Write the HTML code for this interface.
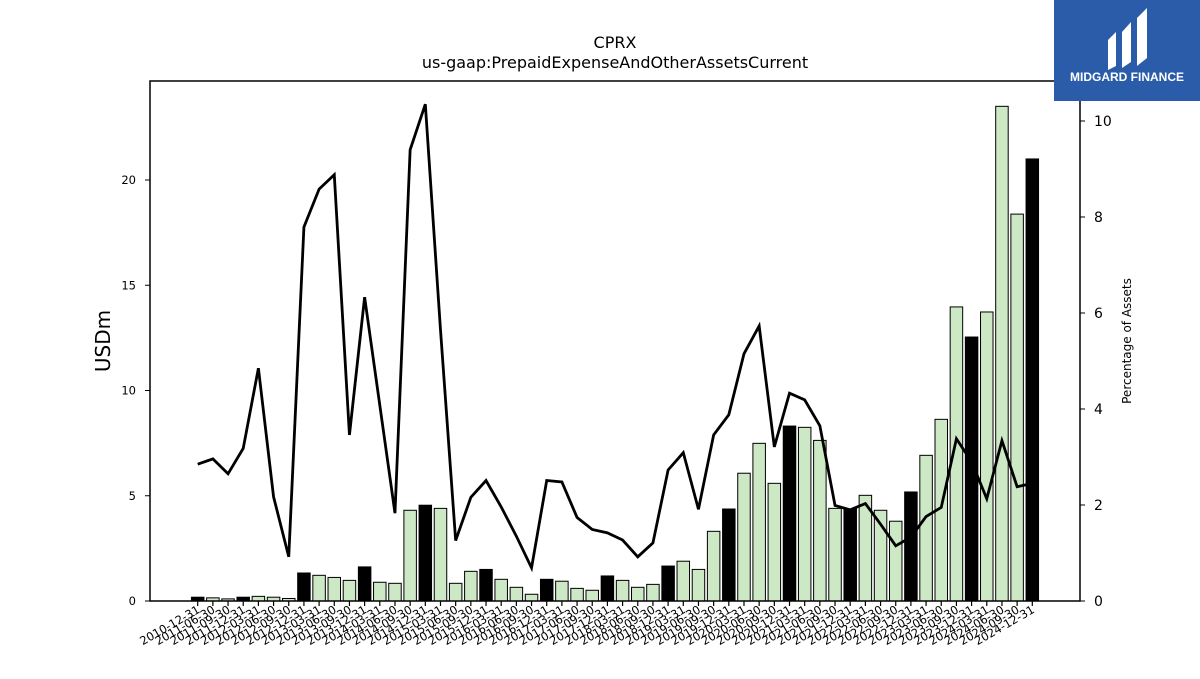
<!DOCTYPE html>
<html><head><meta charset="utf-8"><style>
body{margin:0;background:#fff;font-family:"DejaVu Sans","Liberation Sans",sans-serif}
</style></head><body>
<svg id="c" width="1200" height="675" xmlns="http://www.w3.org/2000/svg">
<rect width="1200" height="675" fill="#fff"/>
<text x="615" y="48" text-anchor="middle" font-size="16">CPRX</text>
<text x="615" y="68" text-anchor="middle" font-size="16">us-gaap:PrepaidExpenseAndOtherAssetsCurrent</text>
<g id="plot"></g>
<rect x="150" y="81" width="930" height="520" fill="none" stroke="#000" stroke-width="1.5"/>
<text transform="translate(110,341) rotate(-90)" text-anchor="middle" font-size="20">USDm</text>
<text transform="translate(1131,341) rotate(-90)" text-anchor="middle" font-size="12">Percentage of Assets</text>
<g>
<rect x="1054" y="0" width="146" height="101" fill="#2a5caa"/>
<path d="M1108 40 l8 -8 v34 l-8 4z M1122 32 l9 -10 v40 l-9 6z M1137 18 l10 -10 v50 l-10 8z" fill="#fff"/>
<text x="1127" y="81" text-anchor="middle" font-size="12" font-weight="bold" fill="#fff" font-family="Liberation Sans, sans-serif">MIDGARD FINANCE</text>
</g>
</svg>
<script>
const dates=["2010-12-31","2011-06-30","2011-09-30","2011-12-31","2012-03-31","2012-06-30","2012-09-30","2012-12-31","2013-03-31","2013-06-30","2013-09-30","2013-12-31","2014-03-31","2014-06-30","2014-09-30","2014-12-31","2015-03-31","2015-06-30","2015-09-30","2015-12-31","2016-03-31","2016-06-30","2016-09-30","2016-12-31","2017-03-31","2017-06-30","2017-09-30","2017-12-31","2018-03-31","2018-06-30","2018-09-30","2018-12-31","2019-03-31","2019-06-30","2019-09-30","2019-12-31","2020-03-31","2020-06-30","2020-09-30","2020-12-31","2021-03-31","2021-06-30","2021-09-30","2021-12-31","2022-03-31","2022-06-30","2022-09-30","2022-12-31","2023-03-31","2023-06-30","2023-09-30","2023-12-31","2024-03-31","2024-06-30","2024-09-30","2024-12-31"];
const usd=[0.18,0.15,0.1,0.18,0.22,0.18,0.12,1.33,1.22,1.12,0.98,1.62,0.89,0.84,4.31,4.55,4.4,0.84,1.41,1.5,1.03,0.65,0.32,1.03,0.94,0.6,0.51,1.19,0.98,0.65,0.79,1.66,1.89,1.5,3.31,4.37,6.07,7.49,5.59,8.31,8.25,7.63,4.4,4.37,5.02,4.31,3.79,5.18,6.92,8.63,13.97,12.54,13.73,23.5,18.38,21.0];
const pct=[2.85,2.96,2.65,3.18,4.85,2.17,0.92,7.79,8.58,8.88,3.46,6.33,4.08,1.83,9.4,10.35,5.65,1.26,2.16,2.51,1.96,1.35,0.69,2.51,2.48,1.74,1.49,1.42,1.27,0.92,1.21,2.73,3.09,1.91,3.46,3.88,5.15,5.73,3.21,4.33,4.19,3.65,1.99,1.9,2.03,1.6,1.15,1.33,1.76,1.95,3.38,2.9,2.13,3.34,2.38,2.45];
const yTicks=[0,5,10,15,20];
const y2Ticks=[0,2,4,6,8,10];
const NS="http://www.w3.org/2000/svg";
const g=document.getElementById('plot');
const x=i=>197.7+i*(834.6/(dates.length-1));
const y=v=>601-v*21.05;
const y2=v=>601-v*48;
function mk(t,a){const e=document.createElementNS(NS,t);for(const k in a)e.setAttribute(k,a[k]);g.appendChild(e);return e;}
const bw=12.5;
usd.forEach((v,i)=>{
 const black=dates[i].endsWith("12-31");
 const r=mk('rect',{x:x(i)-bw/2,y:y(v),width:bw,height:601-y(v),fill:black?'#000':'#cde8c5',stroke:'#000','stroke-width':1});
 
 
 const t=mk('line',{x1:x(i),x2:x(i),y1:601,y2:606,stroke:'#000','stroke-width':1.2});
 
 
 const l=mk('text',{transform:`translate(${x(i)+3},${612}) rotate(-30)`,'text-anchor':'end','font-size':11.5,fill:'#000'});
 l.textContent=dates[i];
 
 
});
const p=mk('polyline',{points:pct.map((v,i)=>x(i)+','+y2(v)).join(' '),fill:'none',stroke:'#000','stroke-width':2.8,'stroke-linejoin':'miter'});


yTicks.forEach(v=>{
 const t=mk('line',{x1:145,x2:150,y1:y(v),y2:y(v),stroke:'#000'});
 
 
 const l=mk('text',{x:136,y:y(v)+4,'text-anchor':'end','font-size':11.5});
 l.textContent=v;
 
 
});
y2Ticks.forEach(v=>{
 const t=mk('line',{x1:1080,x2:1085,y1:y2(v),y2:y2(v),stroke:'#000'});
 
 
 const l=mk('text',{x:1094,y:y2(v)+5,'font-size':14});
 l.textContent=v;
 
 
});
</script>
</body></html>
